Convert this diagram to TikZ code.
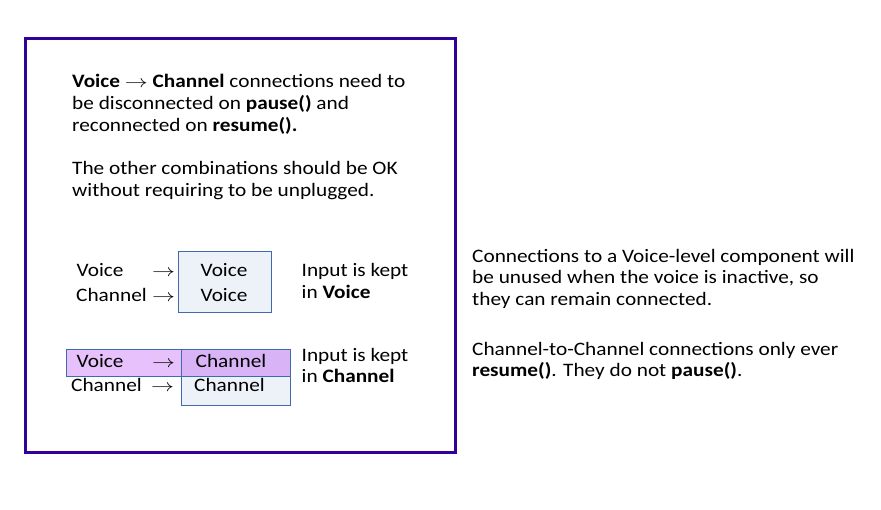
\documentclass[tikz,border=0pt]{standalone}
\usepackage{fontspec}
\usepackage{graphicx}
\setmainfont{Carlito}[FakeStretch=1.12]
\newcommand{\myarr}{\scalebox{1.33}[1]{$\rightarrow$}}
\definecolor{frame}{RGB}{51,0,153}
\definecolor{boxline}{RGB}{65,105,175}
\definecolor{boxfill}{RGB}{237,242,249}
\definecolor{purpA}{RGB}{230,193,251}
\definecolor{purpB}{RGB}{216,180,246}
\begin{document}
\begin{tikzpicture}[x=1pt,y=-1pt,
  txt/.style={anchor=base west,inner sep=0pt,font=\fontsize{19}{22}\selectfont},
  ctxt/.style={anchor=base,inner sep=0pt,font=\fontsize{19}{22}\selectfont},
  arr/.style={anchor=base west,inner sep=0pt,font=\fontsize{18}{22}\selectfont},
  bx/.style={draw=boxline,line width=1pt}]
\useasboundingbox (0,0) rectangle (881,509);
\draw[frame,line width=3pt] (25,38.5) rectangle (455,452.5);
% paragraph 1
\node[txt] (p1) at (72,87) {\textbf{Voice} \myarr{} \textbf{Channel} connections need to};
\node[txt] (p2) at (72,109) {be disconnected on \textbf{pause()} and};
\node[txt] (p3) at (72,131) {reconnected on \textbf{resume().}};
\node[txt] (p4) at (72,174) {The other combinations should be OK};
\node[txt] (p5) at (72,196) {without requiring to be unplugged.};
% box 1
\draw[bx,fill=boxfill] (178,251.5) rectangle (271,312.5);
\node[txt] (a1) at (76.5,276) {Voice};
\node[txt] (a2) at (76,301.5) {Channel};
\node[arr] (ar1) at (152,276) {\myarr};
\node[arr] (ar2) at (152,301.5) {\myarr};
\node[ctxt] (b1) at (224,276) {Voice};
\node[ctxt] (b2) at (224,301.5) {Voice};
\node[txt] (k1) at (301.5,276) {Input is kept};
\node[txt] (k2) at (301.5,298) {in \textbf{Voice}};
% box 2
\draw[bx,fill=purpA] (66.5,349.5) rectangle (181.5,376);
\draw[bx,fill=purpB] (181.5,349.5) rectangle (290,376);
\draw[bx,fill=boxfill] (181.5,376) rectangle (290,405);
\node[txt] (c1) at (76.5,367.5) {Voice};
\node[arr] (ar3) at (152,367.5) {\myarr};
\node[txt] (d1) at (195.5,367.5) {Channel};
\node[txt] (c2) at (71,391.5) {Channel};
\node[arr] (ar4) at (151,391.5) {\myarr};
\node[txt] (d2) at (194,391.5) {Channel};
\node[txt] (k3) at (301.5,361.5) {Input is kept};
\node[txt] (k4) at (301.5,382) {in \textbf{Channel}};
% right notes
\node[txt] (r1) at (472,262) {Connections to a Voice-level component will};
\node[txt] (r2) at (472,283.5) {be unused when the voice is inactive, so};
\node[txt] (r3) at (472,305) {they can remain connected.};
\node[txt] (r4) at (472,355) {Channel-to-Channel connections only ever};
\node[txt] (r5) at (472,376.5) {\textbf{resume()}. They do not \textbf{pause()}.};
\end{tikzpicture}
\end{document}
